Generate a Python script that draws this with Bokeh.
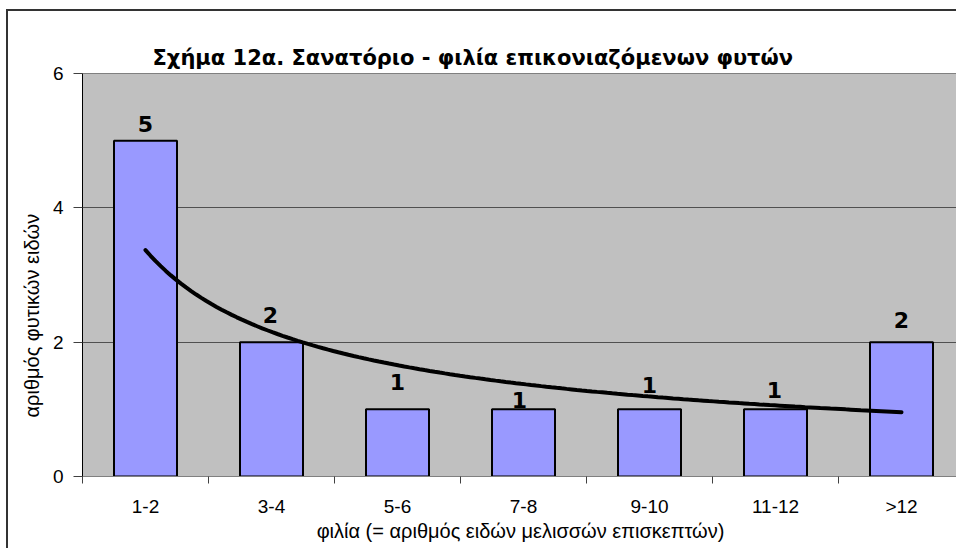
import numpy as np
from bokeh.plotting import figure
from bokeh.models import ColumnDataSource, Range1d, FixedTicker, Title
from bokeh.core.properties import value
from bokeh.embed import file_html
from bokeh.resources import INLINE

# ---- data ----
categories = ["1-2", "3-4", "5-6", "7-8", "9-10", "11-12", ">12"]
counts = [5, 2, 1, 1, 1, 1, 2]
y_ticks = [0, 2, 4, 6]
title_text = "Σχήμα 12α. Σανατόριο - φιλία επικονιαζόμενων φυτών"
x_title = "φιλία (= αριθμός ειδών μελισσών επισκεπτών)"
y_title = "αριθμός φυτικών ειδών"

# ---- label placement (pixels, style only) ----
label_gap = [9, 19, 19, 1, 16, 11, 14]
label_dx = [0, -1, 0, -4, 0, -1, 0]
baseline_fix = 8

n = len(categories)
xc = np.arange(n) + 0.5

# power trendline fitted to the bar values (as Excel "power" trend)
xi = np.arange(1, n + 1)
k, lnc = np.polyfit(np.log(xi), np.log(counts), 1)
xs = np.linspace(1, n, 150)
ys = np.exp(lnc) * xs ** k

W, H = 950, 539
ML, MT, MB = 74, 62, 74
frame_w = W - ML
cat_px = 126.0

p = figure(width=W, height=H, output_backend="svg", toolbar_location=None,
           x_range=Range1d(0, frame_w / cat_px), y_range=Range1d(0, 6),
           min_border_left=ML, min_border_top=MT, min_border_bottom=MB,
           min_border_right=0)
p.styles = {"margin-left": "6px", "margin-top": "9px",
            "border-left": "2px solid #333", "border-top": "2px solid #333"}

p.background_fill_color = "#C0C0C0"
p.border_fill_color = "white"
p.outline_line_color = "#808080"
p.outline_line_width = 1

src = ColumnDataSource(dict(x=xc, top=counts, cat=categories,
                            lbl=[str(c) for c in counts],
                            dy=[-(g + baseline_fix) for g in label_gap],
                            dx=label_dx))
p.vbar(x="x", top="top", width=0.5, bottom=0, source=src,
       fill_color="#9999FF", line_color="black", line_width=2)

p.line(xs - 0.5, ys, line_color="black", line_width=4, line_cap="round")

p.text(x="x", y="top", text="lbl", source=src, x_offset="dx", y_offset="dy",
       text_align="center", text_baseline="alphabetic",
       text_font=value("DejaVu Sans"), text_font_style="bold",
       text_font_size="22px", text_color="black")

# grid
p.xgrid.visible = False
p.ygrid.ticker = FixedTicker(ticks=y_ticks)
p.ygrid.grid_line_color = "#505050"
p.ygrid.grid_line_width = 1

# y axis
yax = p.yaxis[0]
yax.ticker = FixedTicker(ticks=y_ticks)
yax.axis_line_color = "black"
yax.major_tick_out = 9
yax.major_tick_in = 0
yax.major_tick_line_color = "#404040"
yax.minor_tick_line_color = None
yax.major_label_standoff = 10
yax.major_label_text_font = "Liberation Sans"
yax.major_label_text_font_size = "19px"
yax.major_label_text_color = "black"

# x axis: labels at category centres, small ticks between categories
xax = p.xaxis[0]
xax.ticker = FixedTicker(ticks=list(xc), minor_ticks=list(range(n + 1)))
xax.major_label_overrides = {float(x): c for x, c in zip(xc, categories)}
xax.axis_line_color = "#808080"
xax.major_tick_out = 0
xax.major_tick_in = 0
xax.minor_tick_out = 7
xax.minor_tick_in = 0
xax.minor_tick_line_color = "#404040"
xax.major_label_standoff = 12
xax.major_label_text_font = "Liberation Sans"
xax.major_label_text_font_size = "19px"
xax.major_label_text_color = "black"
xax.axis_label = x_title
xax.axis_label_standoff = 0
xax.axis_label_text_font = "Liberation Sans"
xax.axis_label_text_font_size = "20px"
xax.axis_label_text_font_style = "normal"
xax.axis_label_text_color = "black"

# y title on the left
p.add_layout(Title(text=y_title, align="left", offset=59, standoff=14,
                   text_font="Liberation Sans", text_font_size="20px",
                   text_font_style="normal", text_color="black"), "left")

# chart title
p.title.text = title_text
p.title.align = "left"
p.title.offset = 70
p.title.standoff = 8
p.title.text_font = "DejaVu Sans"
p.title.text_font_style = "bold"
p.title.text_font_size = "21px"
p.title.text_color = "black"

open("out.html", "w").write(file_html(p, INLINE))
